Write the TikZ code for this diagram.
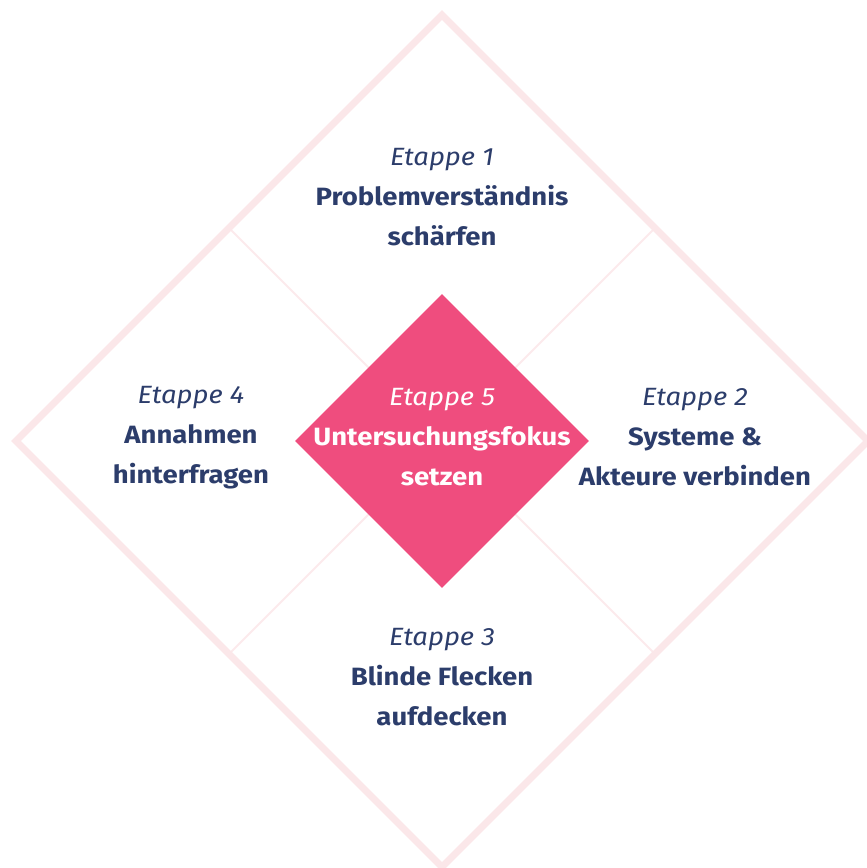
\documentclass[tikz,border=0pt]{standalone}
\usepackage{fontspec}
\setmainfont[FakeStretch=1.1]{Fira Sans}
\usetikzlibrary{shapes.geometric}

\definecolor{rahmen}{HTML}{FBE7E9}
\definecolor{kreuz}{HTML}{FCEAEC}
\definecolor{kern}{HTML}{EF4D7E}
\definecolor{tinte}{HTML}{2C3D6B}
\newcommand{\stufe}[1]{{\mdseries\itshape Etappe #1}}

\begin{document}
\begin{tikzpicture}[x=1pt, y=-1pt,
        feld/.style={align=center, text=tinte, font=\fontsize{25}{40}\selectfont\bfseries},
        kernfeld/.style={feld, text=white}]
        \useasboundingbox (0,0) rectangle (867,868);

        \coordinate (oben) at (442,15);
        \coordinate (rechts) at (868,441);
        \coordinate (unten) at (442,867);
        \coordinate (links) at (16,441);
        \coordinate (lo) at (229,228);
        \coordinate (ro) at (655,228);
        \coordinate (lu) at (229,654);
        \coordinate (ru) at (655,654);

        \draw[kreuz, line width=2pt] (lo) -- (ru);
        \draw[kreuz, line width=2pt] (ro) -- (lu);
        \draw[rahmen, line width=7pt] (oben) -- (rechts) -- (unten) -- (links) -- cycle;

        \node[diamond, fill=kern, aspect=1, inner sep=0pt, minimum width=294pt, minimum height=294pt] (fokus) at (442,441) {};

        \node[feld] (etappe1) at (442,197) {\stufe{1}\\Problemverständnis\\schärfen};
        \node[feld] (etappe2) at (695,437) {\stufe{2}\\Systeme \&\\Akteure verbinden};
        \node[feld] (etappe3) at (442,677) {\stufe{3}\\Blinde Flecken\\aufdecken};
        \node[feld] (etappe4) at (191,438) {\stufe{4}\\Annahmen\\hinterfragen};
        \node[kernfeld] (etappe5) at (442,437) {\stufe{5}\\Untersuchungsfokus\\setzen};
    \end{tikzpicture}
\end{document}
